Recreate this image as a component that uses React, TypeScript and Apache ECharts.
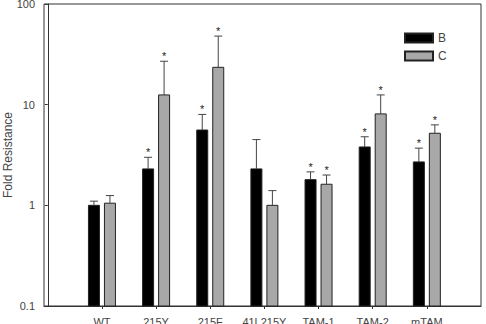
import React, { useEffect, useRef } from "react";
import * as echarts from "echarts";

const categories = ["WT", "215Y", "215F", "41L215Y", "TAM-1", "TAM-2", "mTAM"];
const bValues = [1.0, 2.3, 5.6, 2.3, 1.8, 3.8, 2.7];
const bErrTop = [1.1, 3.0, 8.0, 4.5, 2.15, 4.8, 3.7];
const bSig = [0, 1, 1, 0, 1, 1, 1];
const cValues = [1.05, 12.5, 23.5, 1.0, 1.62, 8.1, 5.2];
const cErrTop = [1.25, 27, 48, 1.4, 2.0, 12.5, 6.3];
const cSig = [0, 1, 1, 0, 1, 1, 1];
const yTicks = [0.1, 1, 10, 100];

const FONT = "Liberation Sans";
const TEXT = "#444";
const LINE = "#333";

function makeRender(offset: number, fill: string) {
  return (params: any, api: any) => {
    const x = api.value(0);
    const v = api.value(1);
    const e = api.value(2);
    const star = api.value(3);
    const top = api.coord([x, v]);
    const base = api.coord([x, yTicks[0]]);
    const et = api.coord([x, e]);
    const cx = top[0] + offset;
    const children: any[] = [
      {
        type: "rect",
        shape: { x: cx - 5.5, y: top[1], width: 11, height: base[1] - top[1] },
        style: { fill, stroke: "#222", lineWidth: 1 },
      },
      {
        type: "line",
        shape: { x1: cx, y1: top[1], x2: cx, y2: et[1] },
        style: { stroke: "#444", lineWidth: 1 },
      },
      {
        type: "line",
        shape: { x1: cx - 4, y1: et[1], x2: cx + 4, y2: et[1] },
        style: { stroke: "#444", lineWidth: 1 },
      },
    ];
    if (star) {
      children.push({
        type: "text",
        x: cx,
        y: et[1] - 5,
        style: {
          text: "*",
          fontSize: 11,
          fontFamily: FONT,
          fill: "#222",
          align: "center",
          verticalAlign: "middle",
        },
      });
    }
    return { type: "group", children };
  };
}

export default function App() {
  const ref = useRef<HTMLDivElement>(null);
  useEffect(() => {
    const chart = echarts.init(ref.current!, null, { renderer: "svg" });
    const bData = categories.map((_, i) => [i + 1, bValues[i], bErrTop[i], bSig[i]]);
    const cData = categories.map((_, i) => [i + 1, cValues[i], cErrTop[i], cSig[i]]);
    const tickVals = categories.map((_, i) => i + 1);
    chart.setOption({
      animation: false,
      backgroundColor: "#fff",
      textStyle: { fontFamily: FONT },
      grid: {
        left: 44,
        top: 4,
        right: 5,
        bottom: 18,
        containLabel: false,
        outerBoundsMode: "none",
        show: true,
        borderColor: LINE,
        borderWidth: 1,
      },
      legend: {
        orient: "vertical",
        left: 399,
        top: 27,
        itemWidth: 28,
        itemHeight: 9,
        itemGap: 6,
        icon: "rect",
        textStyle: { fontSize: 12, color: TEXT, fontFamily: FONT },
        data: ["B", "C"],
      },
      xAxis: {
        type: "value",
        min: -0.07,
        max: 8,
        splitLine: { show: false },
        axisLine: { show: true, lineStyle: { color: LINE } },
        axisTick: { show: true, customValues: tickVals, length: 3, lineStyle: { color: LINE } },
        axisLabel: {
          customValues: tickVals,
          formatter: (v: number) => categories[Math.round(v) - 1] ?? "",
          fontSize: 11,
          color: TEXT,
          margin: 10,
          fontFamily: FONT,
        },
      },
      yAxis: {
        type: "log",
        logBase: 10,
        min: 0.1,
        max: 100,
        name: "Fold Resistance",
        nameLocation: "middle",
        nameGap: 30,
        nameMoveOverlap: false,
        nameTextStyle: { fontSize: 12, color: TEXT, fontFamily: FONT },
        splitLine: { show: false },
        axisLine: { show: true, lineStyle: { color: LINE } },
        axisTick: { show: true, length: 3, lineStyle: { color: LINE } },
        axisLabel: {
          fontSize: 11,
          color: TEXT,
          margin: 9,
          fontFamily: FONT,
          formatter: (v: number) => String(v),
        },
      },
      series: [
        {
          name: "B",
          type: "custom",
          renderItem: makeRender(-8, "#000"),
          itemStyle: { color: "#000", borderColor: "#222", borderWidth: 1 },
          data: bData,
          encode: { x: 0, y: 1 },
        },
        {
          name: "C",
          type: "custom",
          renderItem: makeRender(8, "#a8a8a8"),
          itemStyle: { color: "#a8a8a8", borderColor: "#222", borderWidth: 1 },
          data: cData,
          encode: { x: 0, y: 1 },
        },
      ],
    });
    return () => chart.dispose();
  }, []);
  return (
    <div
      ref={ref}
      style={{ position: "fixed", left: 0, top: 0, width: 486, height: 324 }}
    />
  );
}
